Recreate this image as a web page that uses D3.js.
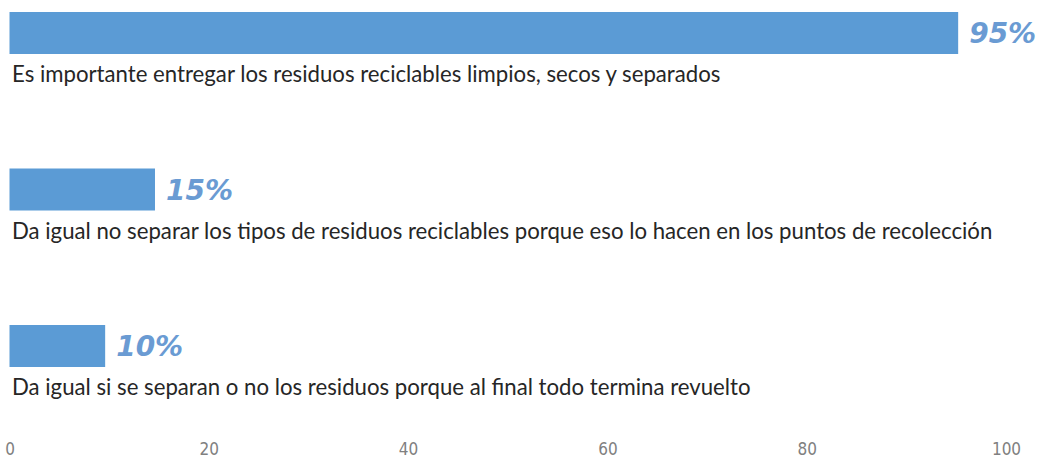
<!DOCTYPE html>
<head>
  <meta charset="utf-8">
  <script src="https://d3js.org/d3.v7.min.js"></script>
  <style>
    body { margin: 0; background: #fff; }
    .cat { font-family: Lato, "Open Sans", sans-serif; font-size: 22.2px; fill: #262626; }
    .pct { font-family: "DejaVu Sans", sans-serif; font-weight: bold; font-style: italic; font-size: 28px; fill: #6a9bd3; }
    .axis text { font-family: "Liberation Sans Narrow", "DejaVu Sans Condensed", sans-serif; font-size: 17px; fill: #808080; }
  </style>
</head>
<body>
  <svg id="chart"></svg>
<script>

    var categories = [
      "Es importante entregar los residuos reciclables limpios, secos y separados",
      "Da igual no separar los tipos de residuos reciclables porque eso lo hacen en los puntos de recolección",
      "Da igual si se separan o no los residuos porque al final todo termina revuelto"
    ];
    var values = [95.2, 14.6, 9.6];
    var valueLabels = ["95%", "15%", "10%"];
    var tickValues = [0, 20, 40, 60, 80, 100];

    var width = 1041, height = 460;
    var barHeight = 42;

    var svg = d3.select('#chart')
      .attr('width', width)
      .attr('height', height);

    var x = d3.scaleLinear()
      .domain([0, 100])
      .range([9.5, 1006]);

    var y = d3.scaleBand()
      .domain(categories)
      .range([12, 481.5]);

    var rows = svg.selectAll('.row')
      .data(categories)
      .enter().append('g')
      .attr('class', 'row')
      .attr('transform', function (d) { return 'translate(0,' + y(d) + ')'; });

    rows.append('rect')
      .attr('x', x(0))
      .attr('y', 0)
      .attr('width', function (d, i) { return x(values[i]) - x(0); })
      .attr('height', barHeight)
      .style('fill', '#5b9bd5');

    rows.append('text')
      .attr('class', 'pct')
      .attr('x', function (d, i) { return x(values[i]) + 11; })
      .attr('y', barHeight / 2 + 10)
      .text(function (d, i) { return valueLabels[i]; });

    rows.append('text')
      .attr('class', 'cat')
      .attr('x', 12)
      .attr('y', 70)
      .text(function (d) { return d; });

    var axis = d3.axisBottom(x)
      .tickValues(tickValues)
      .tickSize(0)
      .tickPadding(0);

    svg.append('g')
      .attr('class', 'axis')
      .attr('transform', 'translate(0,443)')
      .call(axis)
      .call(function (g) { g.select('.domain').remove(); })
      .selectAll('text')
      .attr('dy', '0.71em');

</script>
</body>
